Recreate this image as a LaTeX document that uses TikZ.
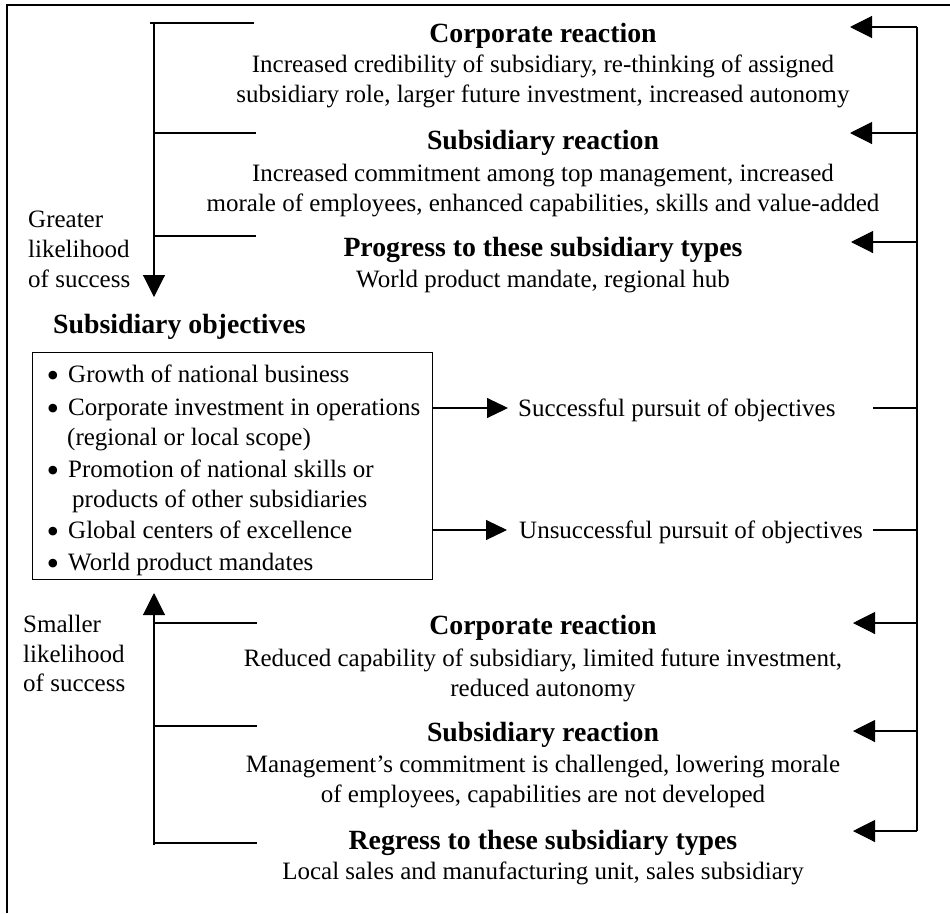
\documentclass[tikz,border=0pt]{standalone}
\usepackage{fontspec}
\setmainfont{Liberation Serif}
\usetikzlibrary{arrows.meta}
\begin{document}
\begin{tikzpicture}[x=1pt,y=-1pt,
  body/.style={inner sep=0pt, anchor=base, font=\fontsize{25}{30}\selectfont},
  lbody/.style={body, anchor=base west},
  head/.style={inner sep=0pt, anchor=base, font=\fontsize{27.8}{33}\selectfont\bfseries},
  lhead/.style={head, anchor=base west},
  bul/.style={inner sep=0pt, anchor=base, font=\fontsize{36}{36}\selectfont},
  link/.style={line width=1.1pt},
  tip/.style={line width=1.1pt, -{Triangle[length=22pt,width=22pt]}},
  smalltip/.style={line width=1.1pt, -{Triangle[length=21pt,width=20pt]}},
]
\useasboundingbox (0,0) rectangle (950,913);
% frame
\draw[line width=1.1pt] (7,913) |- (950,5);

% ---------- upper outcome blocks ----------
\node[head] (cr1) at (543,42) {Corporate reaction};
\node[body] (cr1a) at (543,72) {Increased credibility of subsidiary, re-thinking of assigned};
\node[body] (cr1b) at (543,102) {subsidiary role, larger future investment, increased autonomy};
\node[head] (sr1) at (543,149) {Subsidiary reaction};
\node[body] (sr1a) at (543,181) {Increased commitment among top management, increased};
\node[body] (sr1b) at (543,211) {morale of employees, enhanced capabilities, skills and value-added};
\node[head] (pt) at (543,256) {Progress to these subsidiary types};
\node[body] (pta) at (543,287) {World product mandate, regional hub};

% ---------- lower outcome blocks ----------
\node[head] (cr2) at (543,634) {Corporate reaction};
\node[body] (cr2a) at (543,666) {Reduced capability of subsidiary, limited future investment,};
\node[body] (cr2b) at (543,696) {reduced autonomy};
\node[head] (sr2) at (543,741) {Subsidiary reaction};
\node[body] (sr2a) at (543,772) {Management’s commitment is challenged, lowering morale};
\node[body] (sr2b) at (543,802) {of employees, capabilities are not developed};
\node[head] (rg) at (543,849) {Regress to these subsidiary types};
\node[body] (rga) at (543,879) {Local sales and manufacturing unit, sales subsidiary};

% ---------- side labels ----------
\node[lbody] (gl1) at (28,227) {Greater};
\node[lbody] (gl2) at (28,257) {likelihood};
\node[lbody] (gl3) at (28,287) {of success};
\node[lbody] (sl1) at (23,632) {Smaller};
\node[lbody] (sl2) at (23,662) {likelihood};
\node[lbody] (sl3) at (23,691) {of success};

% ---------- objectives ----------
\node[lhead] (objt) at (53,333) {Subsidiary objectives};
\node[draw, line width=1.1pt, inner sep=0pt, minimum width=400pt, minimum height=227pt,
      anchor=north west] (obj) at (32,352) {};
\foreach \y/\t [count=\i] in {382/{Growth of national business},
    415/{Corporate investment in operations},
    477/{Promotion of national skills or},
    538/{Global centers of excellence},
    570/{World product mandates}} {
  \node[bul] (b\i) at (53,\y+5) {\smash{\textbullet}};
  \node[lbody] (o\i) at (68,\y) {\t};
}
\node[lbody] (o2b) at (67,445) {(regional or local scope)};
\node[lbody] (o3b) at (72,507) {products of other subsidiaries};

\node[lbody] (succ) at (518,416) {Successful pursuit of objectives};
\node[lbody] (fail) at (519,538) {Unsuccessful pursuit of objectives};

% ---------- left spines ----------
\coordinate (uTop) at (154,23);
\coordinate (uTip) at (154,297);
\draw[tip] (uTop) -- (uTip);
\draw[link] (150,23) -- (254,23);
\draw[link] (154,133) -- (256,133);
\draw[link] (154,236) -- (256,236);

\coordinate (lBot) at (154,845);
\coordinate (lTip) at (154,593);
\draw[tip] (lBot) -- (lTip);
\draw[link] (154,623) -- (257,623);
\draw[link] (154,726) -- (257,726);
\draw[link] (154,843) -- (257,843);

% ---------- outcome arrows from the box ----------
\coordinate (sTip) at (508,408);
\coordinate (fTip) at (507,530);
\draw[smalltip] (obj.east |- sTip) -- (sTip);
\draw[smalltip] (obj.east |- fTip) -- (fTip);

% ---------- feedback on the right ----------
\coordinate (rTop) at (917,27);
\coordinate (rBot) at (917,831);
\draw[link] (rTop) -- (rBot);
\draw[link] (873,408) -- (917,408);
\draw[link] (873,530) -- (917,530);
\draw[tip] (rTop) -- (850,27);
\draw[tip] (917,133) -- (850,133);
\draw[tip] (917,242) -- (851,242);
\draw[tip] (917,623) -- (853,623);
\draw[tip] (917,731) -- (853,731);
\draw[tip] (rBot) -- (853,831);
\end{tikzpicture}
\end{document}
